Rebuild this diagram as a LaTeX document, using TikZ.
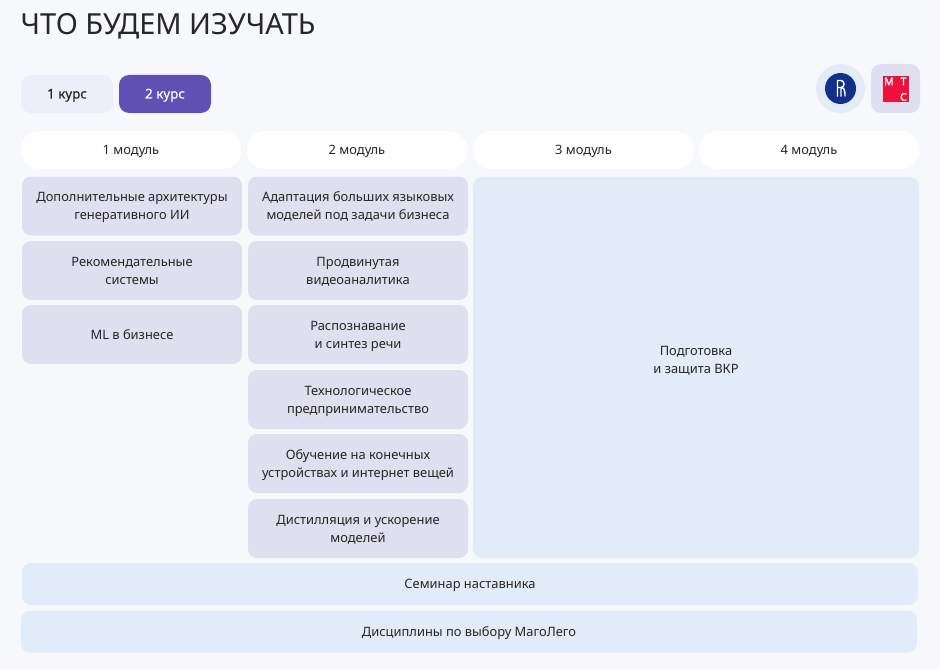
\documentclass[tikz,border=0pt]{standalone}
\usepackage{fontspec}
\setmainfont{Noto Sans}
\newfontfamily\heavyfont[FakeBold=0.5]{Noto Sans}
\newfontfamily\logofont[FakeBold=2]{Noto Sans}
\definecolor{pagebg}{HTML}{F7F8FC}
\definecolor{lilac}{HTML}{E0DFEF}
\definecolor{paleblue}{HTML}{E1ECF8}
\definecolor{tabgrey}{HTML}{ECEFF9}
\definecolor{tabviolet}{HTML}{6050B4}
\definecolor{hseblue}{HTML}{10308A}
\definecolor{mtsred}{HTML}{F0103C}
\definecolor{inkgrey}{HTML}{262626}
\tikzset{
  cell/.style={rounded corners=9pt, inner sep=0pt, align=center, text=inkgrey, font=\fontsize{12.9}{18}\selectfont},
  oneline/.style={execute at begin node={\rule[-4pt]{0pt}{17pt}}},
  twoline/.style={execute at begin node={\rule{0pt}{31pt}}, execute at end node={\rule[-4pt]{0pt}{4pt}}},
  subjectbox/.style={cell, fill=lilac, minimum width=220pt, minimum height=59pt},
  subject/.style={subjectbox, twoline},
  wideblock/.style={cell, oneline, fill=paleblue, minimum width=896pt, minimum height=42pt},
  module/.style={cell, oneline, fill=white, rounded corners=18pt, minimum width=220pt, minimum height=38pt},
  course/.style={cell, oneline, rounded corners=10pt, minimum width=92pt, minimum height=38pt, font=\fontsize{13.4}{18}\selectfont\heavyfont},
  mtsletter/.style={inner sep=0pt, text=white, font=\fontsize{10.5}{11}\selectfont\logofont}
}
\begin{document}
\begin{tikzpicture}[x=1pt, y=-1pt]
  \useasboundingbox (0,0) rectangle (940,669);
  \fill[pagebg] (0,0) rectangle (940,669);
  \node[anchor=west, inner sep=0pt, text=inkgrey, font=\fontsize{29}{32}\selectfont] (title) at (20.5,26.5) {ЧТО БУДЕМ ИЗУЧАТЬ};
  % tabs
  \node[course, fill=tabgrey] (kurs1) at (67,94) {1 курс};
  \node[course, fill=tabviolet, text=white] (kurs2) at (165,94) {2 курс};
  % logos
  \node[circle, fill=paleblue, minimum size=49pt, inner sep=0pt] (hse) at (840.5,88.5) {};
  \node[circle, fill=hseblue, minimum size=31pt, inner sep=0pt] (hsecore) at (840.5,88.5) {};
  \draw[white, line width=1.4pt] (837.5,80) -- (837.5,96.5) (837.5,80.5) -- (841,80.5) .. controls (845,80.5) and (845,87.5) .. (841,87.5) -- (837.5,87.5) (841,87.5) -- (841,96.5) (842,87.5) .. controls (845.5,88) and (845,96) .. (845,96.5);
  \node[rectangle, rounded corners=10pt, fill=lilac, minimum size=49pt, inner sep=0pt] (mtsbox) at (895.5,88.5) {};
  \node[fill=mtsred, minimum size=26pt, inner sep=0pt] (mts) at (896,89) {};
  \node[mtsletter] (mtsm) at (889,81.5) {М};
  \node[mtsletter] (mtst) at (903.5,81.5) {Т};
  \node[mtsletter] (mtsc) at (903.5,97) {С};
  % modules
  \node[module] (m1) at (131,150) {1 модуль};
  \node[module] (m2) at (357,150) {2 модуль};
  \node[module] (m3) at (583.5,150) {3 модуль};
  \node[module] (m4) at (809,150) {4 модуль};
  % first column
  \node[subject] (a1) at (132,206) {Дополнительные архитектуры\\генеративного ИИ};
  \node[subject] (a2) at (132,270.5) {Рекомендательные\\системы};
  \node[subjectbox, oneline] (a3) at (132,334.5) {ML в бизнесе};
  % second column
  \node[subject] (b1) at (358,206) {Адаптация больших языковых\\моделей под задачи бизнеса};
  \node[subject] (b2) at (358,270.5) {Продвинутая\\видеоаналитика};
  \node[subject] (b3) at (358,334.5) {Распознавание\\и синтез речи};
  \node[subject] (b4) at (358,399.5) {Технологическое\\предпринимательство};
  \node[subject] (b5) at (358,463.5) {Обучение на конечных\\устройствах и интернет вещей};
  \node[subject] (b6) at (358,528.5) {Дистилляция и ускорение\\моделей};
  % big block and bars
  \node[cell, fill=paleblue, minimum width=446pt, minimum height=381pt] (vkr) at (696,367.5) {};
  \node[cell, twoline] (vkrtext) at (696,359.5) {Подготовка\\и защита ВКР};
  \node[wideblock] (sem) at (470,584) {Семинар наставника};
  \node[wideblock] (mago) at (469,631.5) {Дисциплины по выбору МагоЛего};
\end{tikzpicture}
\end{document}
